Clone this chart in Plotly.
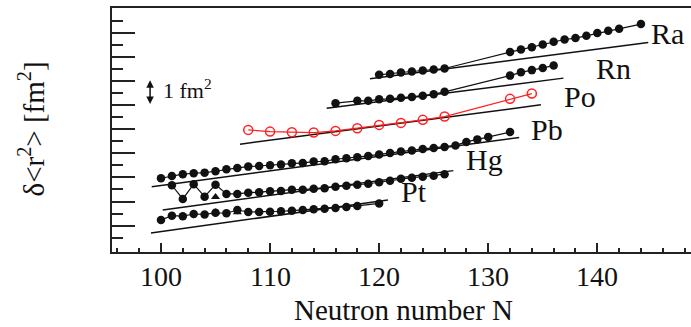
import plotly.graph_objects as go

# ---------------- data ----------------
# Pt chain
N_pt = [100, 101, 102, 103, 104, 105, 106, 107, 108, 109, 110, 111, 112, 113, 114, 115, 116, 117, 118, 120]
v_pt = [1.237, 1.415, 1.394, 1.485, 1.465, 1.535, 1.515, 1.650, 1.568, 1.568, 1.577, 1.598, 1.622, 1.651,
        1.680, 1.705, 1.734, 1.776, 1.817, 1.921]
N_pt_iso = [105, 107]
v_pt_iso = [1.56, 1.56]

# Hg chain
N_hg = list(range(101, 127))
v_hg = [2.676, 2.108, 2.722, 2.203, 2.701, 2.315, 2.315, 2.369, 2.390, 2.427, 2.440, 2.494, 2.494,
        2.535, 2.556, 2.618, 2.656, 2.701, 2.739, 2.801, 2.867, 2.946, 2.988, 3.033, 3.071, 3.133]
N_hg_iso = [105]
v_hg_iso = [2.19]

# Pb chain
N_pb = list(range(100, 131)) + [132]
v_pb = [2.967, 3.062, 3.133, 3.174, 3.199, 3.257, 3.340, 3.394, 3.448, 3.477, 3.506, 3.531, 3.589,
        3.600, 3.656, 3.670, 3.755, 3.797, 3.838, 3.892, 3.954, 4.017, 4.071, 4.112, 4.183, 4.224,
        4.266, 4.328, 4.473, 4.577, 4.680, 4.880]

# Po chain (red open circles)
N_po = [108, 110, 112, 114, 116, 118, 120, 122, 124, 126, 132, 134]
v_po = [4.971, 4.900, 4.876, 4.859, 4.929, 5.041, 5.178, 5.261, 5.386, 5.523, 6.257, 6.477]

# Rn chain
N_rn = [116, 118, 119, 120, 121, 122, 123, 124, 125, 126, 132, 133, 134, 135, 136]
v_rn = [6.079, 6.174, 6.174, 6.237, 6.257, 6.299, 6.332, 6.390, 6.452, 6.548, 7.220, 7.357, 7.448,
        7.535, 7.635]

# Ra chain
N_ra = [120, 121, 122, 123, 124, 125, 126, 132, 133, 134, 135, 136, 137, 138, 139, 140, 141, 142, 144]
v_ra = [7.253, 7.286, 7.349, 7.390, 7.432, 7.473, 7.515, 8.195, 8.303, 8.394, 8.510, 8.622, 8.718,
        8.776, 8.871, 8.983, 9.079, 9.162, 9.357]

# straight reference lines: element, N start, N end, value start, value end
ref_elem = ["Pt", "Hg", "Pb", "Po", "Rn", "Ra"]
ref_N0 = [99.08, 100.16, 99.15, 107.24, 115.19, 119.16]
ref_N1 = [120.8, 126.8, 132.84, 134.83, 136.9, 144.67]
ref_v0 = [0.697, 1.651, 2.618, 4.378, 5.871, 7.087]
ref_v1 = [2.066, 3.282, 4.651, 6.008, 7.116, 8.593]

x_ticks = [100, 110, 120, 130, 140]
x_ticktext = ["100", "110", "120", "130", "140"]

# ---------------- figure ----------------
BLACK = "#111111"
RED = "#ff2020"
AX = "#222222"
SERIF = "Liberation Serif"

fig = go.Figure()

for i in range(len(ref_elem)):
    fig.add_trace(go.Scatter(x=[ref_N0[i], ref_N1[i]], y=[ref_v0[i], ref_v1[i]], mode="lines",
                             line=dict(color=BLACK, width=1.5), showlegend=False, hoverinfo="skip"))

def chain(N, v, color=BLACK, open_marker=False):
    fig.add_trace(go.Scatter(
        x=N, y=v, mode="lines+markers",
        line=dict(color=color, width=1.2),
        marker=dict(symbol="circle-open" if open_marker else "circle", size=9 if open_marker else 8.5,
                    color=color, line=dict(width=1.5 if open_marker else 0, color=color)),
        showlegend=False, hoverinfo="skip"))

def iso(N, v):
    fig.add_trace(go.Scatter(x=N, y=v, mode="markers",
                             marker=dict(symbol="triangle-up", size=8, color=BLACK),
                             showlegend=False, hoverinfo="skip"))

chain(N_pt, v_pt)
iso(N_pt_iso, v_pt_iso)
chain(N_hg, v_hg)
iso(N_hg_iso, v_hg_iso)
chain(N_pb, v_pb)
chain(N_po, v_po, RED, open_marker=True)
chain(N_rn, v_rn)
chain(N_ra, v_ra)

# element labels
labels = [("Ra", 144.71, 8.95), ("Rn", 139.67, 7.52), ("Po", 136.76, 6.35),
          ("Pb", 133.71, 4.99), ("Hg", 127.75, 3.74), ("Pt", 121.79, 2.41)]
for txt, lx, ly in labels:
    fig.add_annotation(x=lx, y=ly, text=txt, showarrow=False, xanchor="left", yanchor="middle",
                       font=dict(family=SERIF, size=30, color=BLACK))

# 1 fm^2 scale arrow
fig.add_annotation(x=99.0, y=7.03, ax=99.0, ay=5.98, axref="x", ayref="y", xref="x", yref="y",
                   text="", showarrow=True, arrowhead=2, arrowside="end+start", arrowsize=1,
                   arrowwidth=1.5, arrowcolor=BLACK, standoff=0, startstandoff=0)
fig.add_annotation(x=100.0, y=6.66, text="1 fm<sup>2</sup>", showarrow=False, xanchor="left",
                   yanchor="middle", font=dict(family=SERIF, size=22, color=BLACK))

# x tick labels (placed just under the axis)
for tv, tt in zip(x_ticks, x_ticktext):
    fig.add_annotation(x=tv, xref="x", yref="paper", y=-0.099, text=tt, showarrow=False,
                       xanchor="center", yanchor="middle",
                       font=dict(family=SERIF, size=28, color=BLACK))

# axis titles
fig.add_annotation(xref="paper", yref="paper", x=-0.14, y=0.506,
                   text="δ&lt;r<sup>2</sup>&gt; [fm<sup>2</sup>]", textangle=-90, showarrow=False,
                   xanchor="center", yanchor="middle", font=dict(family=SERIF, size=29, color=BLACK))
fig.add_annotation(xref="paper", yref="paper", x=0.503, y=-0.238, text="Neutron number N",
                   showarrow=False, xanchor="center", yanchor="middle",
                   font=dict(family=SERIF, size=29, color=BLACK))

x_minor = [n for n in range(96, 150, 2) if n not in x_ticks]
y_major = [1, 2, 3, 4, 5, 6, 7, 8, 9]
y_minor = [k + 0.5 for k in range(0, 10)]

fig.update_layout(
    width=691, height=327,
    margin=dict(l=112, r=0, t=8, b=75),
    paper_bgcolor="white", plot_bgcolor="white",
    xaxis=dict(range=[95.51, 148.59], showline=True, linewidth=2, linecolor=AX, mirror=True,
               ticks="inside", ticklen=9, tickwidth=1.5, tickcolor=AX,
               tickmode="array", tickvals=x_ticks, showticklabels=False,
               minor=dict(ticks="inside", ticklen=4.5, tickwidth=1.5, tickcolor=AX,
                          tickmode="array", tickvals=x_minor, showgrid=False),
               showgrid=False, zeroline=False),
    yaxis=dict(range=[-0.091, 10.023], showline=True, linewidth=2, linecolor=AX, mirror=False,
               ticks="inside", ticklen=23, tickwidth=1.5, tickcolor=AX,
               tickmode="array", tickvals=y_major, showticklabels=False,
               minor=dict(ticks="inside", ticklen=11, tickwidth=1.5, tickcolor=AX,
                          tickmode="array", tickvals=y_minor, showgrid=False),
               showgrid=False, zeroline=False),
)

fig.write_html("out.html", config={"displayModeBar": False},
               post_script="document.body.style.margin='0';document.body.style.overflow='hidden';")
